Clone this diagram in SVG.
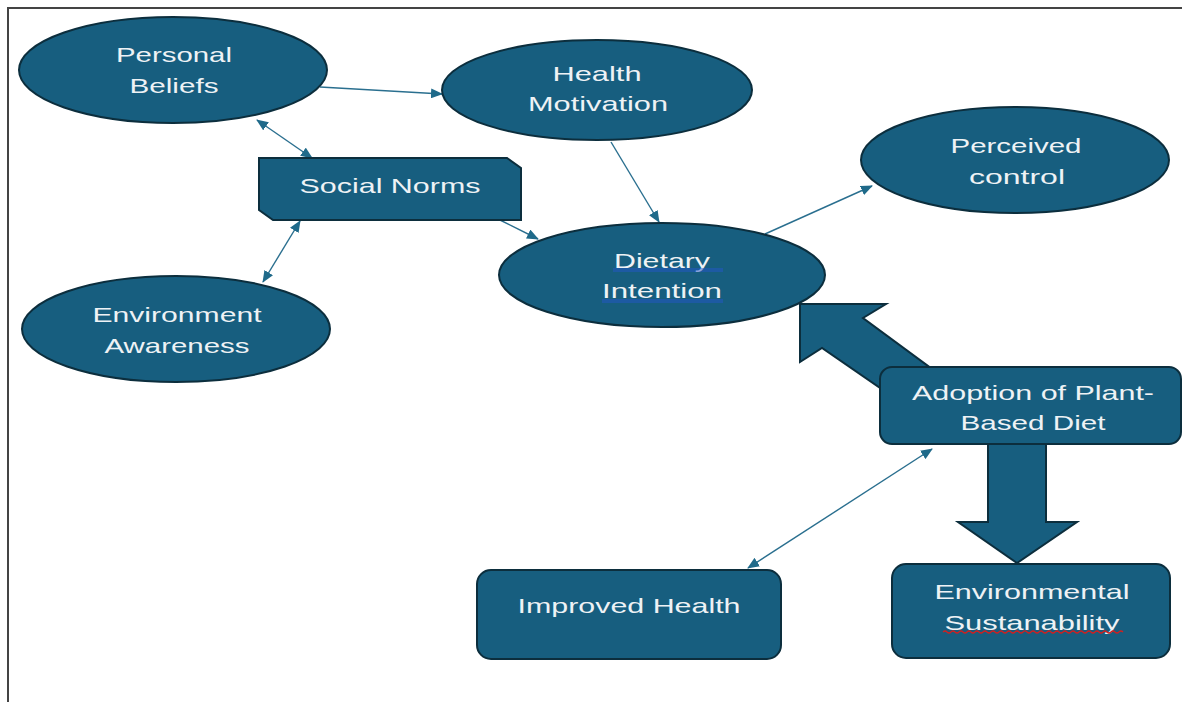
<svg xmlns="http://www.w3.org/2000/svg" width="1182" height="702" viewBox="0 0 1182 702">
<style>
.n{fill:#175e7f;stroke:#0c2e3d;stroke-width:2}
.t{fill:#eef2f5;font-family:"Liberation Sans",Arial,sans-serif;font-size:21px;text-anchor:middle}
.c{stroke:#2a6f8f;stroke-width:1.4;fill:none}
</style>
<defs>
<marker id="ah" markerWidth="12" markerHeight="10" refX="11" refY="5" orient="auto-start-reverse" markerUnits="userSpaceOnUse">
<path d="M0,0 L12,5 L0,10 Z" fill="#1f6a8a"/>
</marker>
</defs>
<rect width="1182" height="702" fill="#ffffff"/>
<path d="M8,702 L8,8 L1182,8" fill="none" stroke="#444" stroke-width="2"/>

<g id="connectors">
<line class="c" x1="320" y1="87" x2="442" y2="94" marker-end="url(#ah)"/>
<line class="c" x1="257" y1="120" x2="312" y2="158" marker-start="url(#ah)" marker-end="url(#ah)"/>
<line class="c" x1="300" y1="221" x2="263" y2="282" marker-start="url(#ah)" marker-end="url(#ah)"/>
<line class="c" x1="611" y1="142" x2="659" y2="222" marker-end="url(#ah)"/>
<line class="c" x1="500" y1="220" x2="538" y2="239" marker-end="url(#ah)"/>
<line class="c" x1="765" y1="234" x2="872" y2="186" marker-end="url(#ah)"/>
<line class="c" x1="748" y1="568" x2="932" y2="449" marker-start="url(#ah)" marker-end="url(#ah)"/>
</g>

<g id="personal-beliefs">
<ellipse class="n" cx="173" cy="70" rx="154" ry="53"/>
<text class="t" x="174" y="62" textLength="116" lengthAdjust="spacingAndGlyphs">Personal</text>
<text class="t" x="174" y="93" textLength="89" lengthAdjust="spacingAndGlyphs">Beliefs</text>
</g>

<g id="health-motivation">
<ellipse class="n" cx="597" cy="90" rx="155" ry="50"/>
<text class="t" x="597" y="81" textLength="89" lengthAdjust="spacingAndGlyphs">Health</text>
<text class="t" x="598" y="111" textLength="140" lengthAdjust="spacingAndGlyphs">Motivation</text>
</g>

<g id="perceived-control">
<ellipse class="n" cx="1015" cy="160" rx="154" ry="53"/>
<text class="t" x="1016" y="153" textLength="131" lengthAdjust="spacingAndGlyphs">Perceived</text>
<text class="t" x="1017" y="184" textLength="96" lengthAdjust="spacingAndGlyphs">control</text>
</g>

<g id="social-norms">
<path class="n" d="M259,158 L507,158 L521,168 L521,220 L273,220 L259,210 Z"/>
<text class="t" x="390" y="193" textLength="181" lengthAdjust="spacingAndGlyphs">Social Norms</text>
</g>

<g id="environment-awareness">
<ellipse class="n" cx="176" cy="329" rx="154" ry="53"/>
<text class="t" x="177" y="322" textLength="169" lengthAdjust="spacingAndGlyphs">Environment</text>
<text class="t" x="177" y="353" textLength="145" lengthAdjust="spacingAndGlyphs">Awareness</text>
</g>

<g id="dietary-intention">
<ellipse class="n" cx="662" cy="275" rx="163" ry="52"/>
<text class="t" x="662" y="268" textLength="96" lengthAdjust="spacingAndGlyphs">Dietary</text>
<text class="t" x="662" y="298" textLength="120" lengthAdjust="spacingAndGlyphs">Intention</text>
<path d="M613,269 L723,269 M613,271 L723,271 M602,300 L723,300 M602,302 L723,302" stroke="#2456c8" stroke-width="1"/>
</g>

<g id="block-arrow-up">
<path class="n" d="M800,304 L886,304 L863,318 L928,366 L886,392 L822,348 L800,362 Z"/>
</g>

<g id="adoption">
<rect class="n" x="880" y="367" width="301" height="77" rx="12"/>
<text class="t" x="1033" y="400" textLength="242" lengthAdjust="spacingAndGlyphs">Adoption of Plant-</text>
<text class="t" x="1033" y="430" textLength="145" lengthAdjust="spacingAndGlyphs">Based Diet</text>
</g>

<g id="block-arrow-down">
<path class="n" d="M988,444 L1046,444 L1046,522 L1077,522 L1017,563 L958,522 L988,522 Z"/>
</g>

<g id="improved-health">
<rect class="n" x="477" y="570" width="304" height="89" rx="14"/>
<text class="t" x="629" y="613" textLength="223" lengthAdjust="spacingAndGlyphs">Improved Health</text>
</g>

<g id="environmental-sustainability">
<rect class="n" x="892" y="564" width="278" height="94" rx="14"/>
<text class="t" x="1032" y="599" textLength="195" lengthAdjust="spacingAndGlyphs">Environmental</text>
<text class="t" x="1032" y="630" textLength="175" lengthAdjust="spacingAndGlyphs">Sustanability</text>
<path d="M943,632 q2,-2 4,0 t4,0 t4,0 t4,0 t4,0 t4,0 t4,0 t4,0 t4,0 t4,0 t4,0 t4,0 t4,0 t4,0 t4,0 t4,0 t4,0 t4,0 t4,0 t4,0 t4,0 t4,0 t4,0 t4,0 t4,0 t4,0 t4,0 t4,0 t4,0 t4,0 t4,0 t4,0 t4,0 t4,0 t4,0 t4,0 t4,0 t4,0 t4,0 t4,0 t4,0 t4,0 t4,0 t4,0 t4,0" fill="none" stroke="#d02020" stroke-width="1.2"/>
</g>
</svg>
